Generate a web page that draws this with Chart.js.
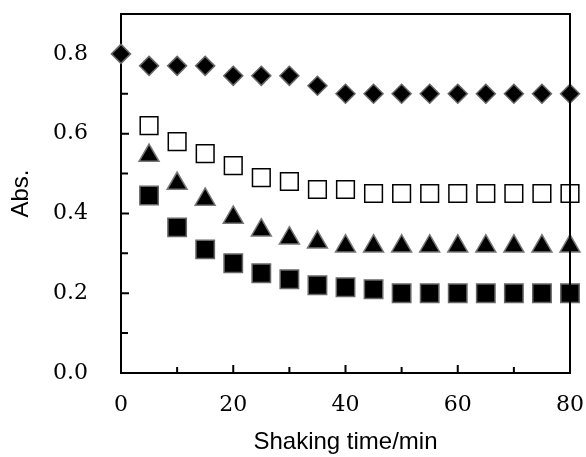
<!DOCTYPE html>
<html>
<head>
<meta charset="utf-8">
<script src="https://cdn.jsdelivr.net/npm/chart.js@4.4.1/dist/chart.umd.min.js"></script>
<style>
  html, body { margin: 0; padding: 0; background: #fff; }
  #wrap { width: 586px; height: 457px; }
</style>
</head>
<body>
<div id="wrap"><canvas id="chart" width="586" height="457"></canvas></div>
<script>
/* ── Data ─────────────────────────────────────────────────────────── */
const times = [0, 5, 10, 15, 20, 25, 30, 35, 40, 45, 50, 55, 60, 65, 70, 75, 80];
const diamondVals = [0.80, 0.77, 0.77, 0.77, 0.745, 0.745, 0.745, 0.72, 0.70, 0.70, 0.70, 0.70, 0.70, 0.70, 0.70, 0.70, 0.70];
const openSquareVals = [null, 0.62, 0.58, 0.55, 0.52, 0.49, 0.48, 0.46, 0.46, 0.45, 0.45, 0.45, 0.45, 0.45, 0.45, 0.45, 0.45];
const triangleVals = [null, 0.545, 0.475, 0.435, 0.39, 0.358, 0.338, 0.328, 0.318, 0.318, 0.318, 0.318, 0.318, 0.318, 0.318, 0.318, 0.318];
const filledSquareVals = [null, 0.445, 0.365, 0.31, 0.275, 0.25, 0.235, 0.22, 0.215, 0.21, 0.20, 0.20, 0.20, 0.20, 0.20, 0.20, 0.20];
const xTicks = [0, 20, 40, 60, 80];
const xMinorTicks = [10, 30, 50, 70];
const yTicks = [0, 0.2, 0.4, 0.6, 0.8];
const yMinorTicks = [0.1, 0.3, 0.5, 0.7];

const toPoints = vals => times.map((t, i) => ({ x: t, y: vals[i] })).filter(p => p.y !== null);

/* ── Frame & inward ticks ─────────────────────────────────────────── */
const framePlugin = {
  id: 'frame',
  beforeDatasetsDraw(chart) {
    const { ctx, chartArea: a, scales: { x, y } } = chart;
    ctx.save();
    ctx.strokeStyle = '#000';
    ctx.lineWidth = 2;
    ctx.beginPath();
    ctx.moveTo(a.left, a.top); ctx.lineTo(a.left, a.bottom); ctx.lineTo(a.right, a.bottom);
    yTicks.forEach(v => { const p = y.getPixelForValue(v); ctx.moveTo(a.left, p); ctx.lineTo(a.left + 8, p); });
    yMinorTicks.forEach(v => { const p = y.getPixelForValue(v); ctx.moveTo(a.left, p); ctx.lineTo(a.left + 7, p); });
    xTicks.forEach(v => { const p = x.getPixelForValue(v); ctx.moveTo(p, a.bottom); ctx.lineTo(p, a.bottom - 8); });
    xMinorTicks.forEach(v => { const p = x.getPixelForValue(v); ctx.moveTo(p, a.bottom); ctx.lineTo(p, a.bottom - 6); });
    ctx.stroke();
    ctx.restore();
  },
  afterDatasetsDraw(chart) {
    const { ctx, chartArea: a } = chart;
    ctx.save();
    ctx.strokeStyle = '#000';
    ctx.lineWidth = 2;
    ctx.beginPath();
    ctx.moveTo(a.left - 1, a.top); ctx.lineTo(a.right, a.top); ctx.lineTo(a.right, a.bottom + 1);
    ctx.stroke();
    ctx.restore();
  }
};

const marker = (label, vals, style, radius, fill, edge, edgeW) => ({
  label, data: toPoints(vals), showLine: false, clip: false,
  pointStyle: style, pointRadius: radius, pointHoverRadius: radius,
  backgroundColor: fill, borderColor: edge, borderWidth: edgeW
});

/* ── Chart ────────────────────────────────────────────────────────── */
const tickFont = { family: 'DejaVu Serif', size: 22 };
const titleFont = { family: 'Liberation Sans', size: 24 };

new Chart(document.getElementById('chart'), {
  type: 'scatter',
  data: {
    datasets: [
      marker('diamond', diamondVals, 'rectRot', 9.5, '#000', '#666', 1.5),
      marker('open square', openSquareVals, 'rect', 12.5, '#fff', '#000', 1.5),
      marker('triangle', triangleVals, 'triangle', 11.5, '#000', '#777', 1.5),
      marker('filled square', filledSquareVals, 'rect', 13, '#000', '#666', 1.5)
    ]
  },
  plugins: [framePlugin],
  options: {
    responsive: false,
    animation: false,
    layout: { autoPadding: false, padding: { top: 14, right: 16, left: 0, bottom: 0 } },
    plugins: { legend: { display: false }, tooltip: { enabled: false } },
    scales: {
      x: {
        type: 'linear', min: 0, max: 80,
        afterBuildTicks: s => { s.ticks = xTicks.map(v => ({ value: v })); },
        afterFit: s => { s.height = 84; s.paddingLeft = 0; s.paddingRight = 0; },
        grid: { display: false, drawTicks: false },
        border: { display: false },
        ticks: { font: tickFont, color: '#000', padding: 19, maxRotation: 0 },
        title: { display: true, text: 'Shaking time/min', font: titleFont, color: '#000', padding: { top: 0, bottom: 0 } }
      },
      y: {
        type: 'linear', min: 0, max: 0.9,
        afterBuildTicks: s => { s.ticks = yTicks.map(v => ({ value: v })); },
        afterFit: s => { s.width = 121; s.paddingTop = 0; s.paddingBottom = 0; },
        grid: { display: false, drawTicks: false },
        border: { display: false },
        ticks: { font: tickFont, color: '#000', padding: 33, callback: v => v.toFixed(1) },
        title: { display: true, text: 'Abs.', font: titleFont, color: '#000', padding: { top: 7, bottom: 0 } }
      }
    }
  }
});
</script>
</body>
</html>
